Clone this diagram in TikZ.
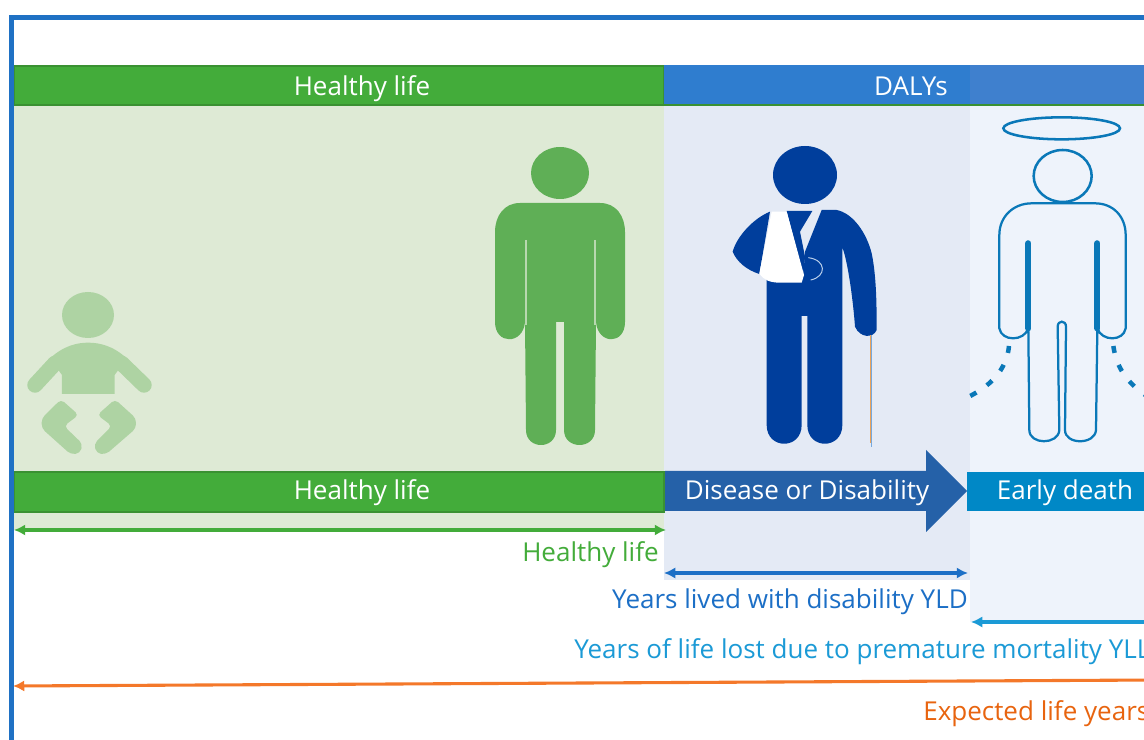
\documentclass[tikz,border=0pt]{standalone}
\usepackage{fontspec}
\usetikzlibrary{arrows.meta}
\setmainfont{Open Sans}
\definecolor{frameblue}{HTML}{1F71C4}
\definecolor{barGreen}{HTML}{43AC3A}
\definecolor{barEdge}{HTML}{3A9132}
\definecolor{palegreen}{HTML}{DEEAD5}
\definecolor{paleblue}{HTML}{E4EAF5}
\definecolor{paleangel}{HTML}{EEF3FB}
\definecolor{dalyA}{HTML}{2F7DCF}
\definecolor{dalyB}{HTML}{3F80CE}
\definecolor{arrowblue}{HTML}{2561A8}
\definecolor{deathblue}{HTML}{0088C6}
\definecolor{adultgreen}{HTML}{5FAF56}
\definecolor{babygreen}{HTML}{AED3A3}
\definecolor{navy}{HTML}{003E9C}
\definecolor{haloblue}{HTML}{0A78B8}
\definecolor{yldblue}{HTML}{1C6FC6}
\definecolor{yllblue}{HTML}{1B9AD6}
\definecolor{lifeorange}{HTML}{F4782A}
\definecolor{lifetext}{HTML}{E8640F}
\tikzset{
  bartext/.style={text=white, font=\fontsize{18.5}{22}\selectfont, inner sep=0, anchor=base},
  caption/.style={font=\fontsize{18.5}{22}\selectfont, inner sep=0},
  span/.style={{Latex[length=8pt, width=8pt]}-{Latex[length=8pt, width=8pt]}, line width=2.2pt},
}
\begin{document}
\begin{tikzpicture}[x=.025cm, y=-.025cm]
\useasboundingbox (0, 0) rectangle (1144, 740);
\clip (0, 0) rectangle (1144, 740);
\fill [white] (0, 0) rectangle (1144, 740);

% panels
\fill [palegreen] (14, 106) rectangle (664, 530);
\fill [paleblue] (664, 106) rectangle (970, 580);
\fill [paleangel] (970, 106) rectangle (1150, 622);

% top bars
\draw [barEdge, fill=barGreen, line width=1.2pt] (14, 66) rectangle (664, 105);
\fill [dalyA] (664, 65) rectangle (970, 104);
\fill [dalyB] (970, 65) rectangle (1150, 104);
\draw [barEdge, line width=1.2pt] (664, 105) -- (1150, 105);
\node [bartext] (topHealthy) at (362, 96) {Healthy life};
\node [bartext] (topDalys) at (911, 96) {DALYs};

% baby
\fill [babygreen] (88, 315) ellipse (26 and 23);
\begin{scope}[shift={(0, 270)}, scale=1/3]
\fill [babygreen] (186, 372) -- (186, 315) -- (150, 265) .. controls (190, 228) and (230, 218) .. (264, 218) .. controls (300, 218) and (340, 228) .. (380, 265) -- (344, 315) -- (344, 372) -- cycle;
\draw [babygreen, line width=11pt, line cap=round] (165, 280) -- (105, 345);
\draw [babygreen, line width=11pt, line cap=round] (365, 280) -- (432, 345);
\fill [babygreen, rounded corners=3pt] (183, 388) -- (236, 435) -- (192, 468) -- (248, 522) -- (240, 550) -- (212, 553) -- (125, 475) -- (125, 445) -- cycle;
\fill [babygreen, rounded corners=3pt] (345, 388) -- (292, 435) -- (336, 468) -- (282, 522) -- (290, 550) -- (318, 553) -- (408, 475) -- (408, 445) -- cycle;
\end{scope}

% adult
\fill [adultgreen] (560, 173) ellipse (29 and 26);
\fill [adultgreen] (520, 203) -- (600, 203) .. controls (616, 203) and (625, 216) .. (625, 232) -- (625, 322) .. controls (625, 345) and (598, 345) .. (596, 322) -- (595, 430) .. controls (595, 450) and (564, 450) .. (564, 430) -- (564, 322) -- (556, 322) -- (556, 430) .. controls (556, 450) and (526, 450) .. (526, 430) -- (525, 322) .. controls (523, 345) and (495, 345) .. (495, 322) -- (495, 232) .. controls (495, 216) and (504, 203) .. (520, 203) -- cycle;
\draw [palegreen!70!adultgreen, line width=1pt] (526, 240) -- (526, 325);
\draw [palegreen!70!adultgreen, line width=1pt] (595, 240) -- (595, 325);

% injured person
\fill [navy] (805, 175) ellipse (32 and 29);
\begin{scope}[shift={(720, 130)}, scale=1/3]
\fill [navy] (305, 240) -- (350, 240) .. controls (400, 250) and (440, 310) .. (455, 370) .. controls (470, 440) and (470, 540) .. (470, 600) .. controls (460, 625) and (420, 625) .. (405, 590) .. controls (400, 520) and (385, 400) .. (367, 352) -- (367, 885) .. controls (367, 960) and (262, 960) .. (262, 885) -- (262, 558) -- (245, 558) -- (245, 885) .. controls (245, 960) and (140, 960) .. (140, 885) -- (140, 440) -- (250, 440) -- (255, 365) -- cycle;
\fill [navy] (150, 245) -- (118, 432) .. controls (80, 420) and (50, 395) .. (38, 365) .. controls (50, 320) and (100, 265) .. (150, 245) -- cycle;
\fill [navy] (200, 243) -- (277, 243) -- (240, 305) -- (255, 380) -- (250, 435) -- cycle;
\fill [white] (155, 245) -- (118, 430) .. controls (130, 450) and (150, 458) .. (180, 458) -- (245, 458) -- (252, 435) -- (200, 245) -- cycle;
\draw [paleblue!80!yldblue, line width=.7pt] (265, 383) .. controls (320, 390) and (320, 440) .. (272, 450);
\draw [orange!60!paleblue!80!brown, line width=.7pt] (451, 615) -- (451, 938);
\draw [yldblue!60, line width=.7pt] (455, 615) -- (455, 950);
\end{scope}

% early death figure
\begin{scope}[shift={(960, 100)}, scale=1/3]
\draw [haloblue, line width=1.8pt] (305, 85) ellipse (175 and 33);
\draw [haloblue, line width=1.8pt] (308, 228) ellipse (87 and 78);
\draw [haloblue, line width=1.6pt, fill=paleangel] (215, 310) -- (405, 310) .. controls (460, 310) and (497, 350) .. (497, 405) -- (497, 685) .. controls (490, 725) and (425, 725) .. (412, 685) -- (408, 990) .. controls (405, 1035) and (315, 1035) .. (315, 990) -- (318, 680) .. controls (318, 660) and (293, 660) .. (293, 680) -- (298, 990) .. controls (295, 1035) and (208, 1035) .. (208, 990) -- (205, 685) .. controls (192, 725) and (125, 725) .. (118, 685) -- (118, 405) .. controls (118, 350) and (160, 310) .. (215, 310) -- cycle;
\draw [haloblue, line width=4.4pt, line cap=round] (205, 430) -- (205, 685);
\draw [haloblue, line width=4.4pt, line cap=round] (412, 430) -- (412, 685);
\draw [haloblue, line width=3.2pt, dash pattern=on 5pt off 9pt] (147, 738) .. controls (140, 810) and (90, 860) .. (22, 892);
\draw [haloblue, line width=3.2pt, dash pattern=on 5pt off 9pt] (460, 738) .. controls (470, 810) and (510, 860) .. (580, 900);
\end{scope}

% lower bars
\draw [barEdge, fill=barGreen, line width=1.2pt] (14, 472) rectangle (664, 512);
\fill [arrowblue] (665, 471) -- (926, 471) -- (926, 450) -- (967, 491) -- (926, 532) -- (926, 511) -- (665, 511) -- cycle;
\fill [deathblue] (967, 472) rectangle (1150, 511);
\node [bartext] (lowHealthy) at (362, 500) {Healthy life};
\node [bartext] (lowDisease) at (807, 500) {Disease or Disability};
\node [bartext] (lowDeath) at (1065, 500) {Early death};

% spans
\coordinate (healthyA) at (14, 530);
\coordinate (healthyB) at (666, 530);
\coordinate (yldA) at (664, 573);
\coordinate (yldB) at (968, 573);
\coordinate (yllA) at (971, 622);
\coordinate (yllB) at (1170, 622);
\coordinate (lifeA) at (13, 686);
\coordinate (lifeB) at (1156, 680);
\draw [span, barGreen] (healthyA) -- (healthyB);
\draw [span, yldblue] (yldA) -- (yldB);
\draw [span, yllblue] (yllA) -- (yllB);
\draw [span, lifeorange] (lifeA) -- (lifeB);

\node [caption, anchor=base east, text=barGreen] (healthyText) at (659, 561) {Healthy life};
\node [caption, anchor=base east, text=yldblue] (yldText) at (968, 608) {Years lived with disability YLD};
\node [caption, anchor=base west, text=yllblue] (yllText) at (574, 658) {Years of life lost due to premature mortality YLL};
\node [caption, anchor=base west, text=lifetext] (lifeText) at (923, 720) {Expected life years};

% frame
\draw [frameblue, line width=3.6pt] (11.5, 750) -- (11.5, 17.5) -- (1150, 17.5);
\end{tikzpicture}
\end{document}
